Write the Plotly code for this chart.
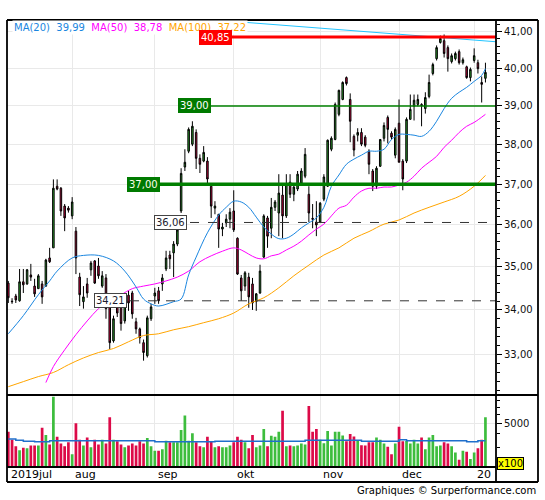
import numpy as np
import pandas as pd
import plotly.graph_objects as go

# ---------------- data ----------------
holidays = pd.to_datetime(["2019-12-25", "2019-12-26", "2020-01-01"])
dates = pd.bdate_range("2019-07-09", "2020-01-07")
dates = dates[~dates.isin(holidays)]

open_ = [34.62, 34.20, 34.32, 34.21, 34.65, 34.60, 34.81, 34.55, 34.49, 34.60,
         34.55, 35.21, 35.45, 36.95, 36.90, 36.46, 36.41, 36.22, 35.85, 34.76,
         34.19, 34.60, 34.93, 35.14, 35.02, 34.55, 34.74, 34.25, 33.30, 34.14,
         34.09, 33.75, 34.34, 34.39, 33.73, 33.57, 33.26, 32.97, 33.80, 34.32,
         34.44, 34.60, 34.95, 35.28, 35.33, 35.54, 36.34, 37.43, 37.83, 38.01,
         38.31, 37.65, 37.58, 37.58, 36.95, 36.41, 36.26, 35.90, 36.05, 36.14,
         36.34, 35.68, 34.74, 34.55, 34.76, 34.60, 34.19, 34.39, 35.23, 36.17,
         35.92, 36.43, 36.29, 36.73, 36.22, 37.05, 36.75, 36.88, 37.03, 37.20,
         36.75, 36.16, 36.07, 36.07, 36.63, 36.95, 37.88, 38.13, 38.78, 39.17,
         39.75, 39.17, 38.21, 38.24, 38.31, 38.19, 37.83, 37.33, 36.95, 37.45,
         38.16, 38.70, 38.29, 37.73, 38.55, 37.58, 37.58, 38.65, 38.99, 39.04,
         39.04, 38.93, 39.25, 39.86, 40.26, 40.70, 40.75, 40.56, 40.18, 40.26,
         40.45, 40.15, 40.04, 39.75, 40.21, 40.15, 39.62, 39.73]
high = [34.67, 34.27, 34.37, 34.95, 34.95, 34.95, 35.07, 34.72, 34.83, 34.67,
        35.19, 35.45, 37.12, 37.12, 36.93, 36.51, 36.46, 36.68, 35.95, 34.86,
        34.55, 34.74, 35.14, 35.16, 35.21, 34.90, 34.83, 34.37, 33.87, 34.19,
        34.16, 34.30, 34.44, 34.44, 33.82, 33.60, 33.33, 33.87, 34.14, 34.51,
        34.53, 34.83, 35.38, 35.38, 35.61, 36.14, 37.40, 37.88, 38.44, 38.60,
        38.39, 37.75, 37.96, 37.68, 37.00, 36.58, 36.26, 36.05, 36.26, 36.41,
        36.85, 35.70, 34.81, 34.90, 34.86, 34.74, 34.39, 35.05, 36.26, 36.22,
        36.66, 36.61, 37.25, 37.00, 37.25, 37.25, 37.00, 37.33, 37.40, 37.91,
        36.95, 36.51, 36.58, 36.56, 37.25, 38.13, 38.21, 39.09, 39.43, 39.65,
        39.78, 39.33, 38.26, 38.42, 38.42, 38.24, 37.88, 37.38, 37.45, 38.13,
        38.57, 38.75, 38.34, 38.44, 39.17, 37.63, 38.70, 39.30, 39.30, 39.30,
        39.07, 39.36, 39.83, 40.15, 40.62, 40.89, 40.92, 40.62, 40.40, 40.45,
        40.51, 40.29, 40.07, 40.02, 40.54, 40.23, 39.78, 40.15]
low = [34.16, 34.14, 34.16, 34.19, 34.39, 34.58, 34.67, 34.30, 34.49, 34.14,
       34.53, 35.09, 35.45, 36.85, 36.22, 35.85, 36.30, 36.14, 34.83, 34.09,
       34.03, 34.28, 34.79, 34.60, 34.72, 34.51, 33.80, 33.12, 33.26, 33.84,
       33.53, 33.69, 33.98, 33.80, 33.46, 33.24, 32.86, 32.93, 33.75, 34.14,
       34.14, 34.44, 34.90, 34.95, 34.76, 35.49, 36.29, 37.33, 37.78, 37.96,
       37.38, 37.28, 37.55, 37.03, 36.17, 36.26, 35.45, 35.73, 35.95, 35.92,
       35.83, 34.81, 34.21, 34.44, 34.05, 34.00, 33.98, 34.37, 35.21, 35.45,
       35.68, 36.34, 35.73, 35.68, 36.17, 36.66, 36.58, 36.83, 36.98, 37.15,
       36.07, 35.92, 35.73, 36.05, 36.58, 36.93, 37.83, 38.11, 38.73, 39.15,
       39.54, 38.06, 37.70, 38.08, 37.96, 37.93, 37.25, 36.83, 36.88, 37.43,
       38.08, 38.03, 38.13, 37.65, 37.55, 36.85, 37.53, 38.65, 38.62, 38.99,
       38.47, 38.80, 39.20, 39.81, 40.21, 40.67, 40.29, 39.91, 40.13, 40.21,
       40.10, 40.10, 39.72, 39.65, 40.15, 39.86, 39.09, 39.62]
close = [34.28, 34.19, 34.23, 34.65, 34.58, 34.93, 34.76, 34.37, 34.79, 34.30,
         35.16, 35.12, 36.90, 36.88, 36.34, 36.17, 36.36, 36.56, 35.21, 34.35,
         34.30, 34.39, 35.09, 34.62, 34.79, 34.79, 34.03, 33.26, 33.80, 33.93,
         33.69, 34.25, 34.16, 33.91, 33.57, 33.37, 33.04, 33.82, 34.07, 34.39,
         34.21, 34.74, 35.21, 35.19, 35.54, 35.88, 37.27, 37.55, 38.39, 38.47,
         37.65, 37.50, 37.80, 37.13, 36.46, 36.46, 35.90, 35.95, 36.14, 36.31,
         35.88, 34.83, 34.44, 34.86, 34.30, 34.16, 34.37, 34.90, 36.22, 35.73,
         36.43, 36.56, 36.78, 36.22, 37.00, 36.75, 36.93, 37.25, 37.33, 37.75,
         36.29, 36.14, 36.00, 36.53, 37.18, 38.11, 38.16, 39.04, 39.41, 39.62,
         39.59, 38.60, 37.86, 38.31, 38.01, 37.98, 37.50, 36.95, 37.40, 38.13,
         38.49, 38.39, 38.19, 38.39, 37.55, 37.13, 38.65, 38.91, 39.15, 39.17,
         39.01, 39.22, 39.62, 40.10, 40.56, 40.81, 40.40, 40.26, 40.34, 40.40,
         40.15, 40.23, 39.75, 39.97, 40.34, 39.99, 39.57, 39.89]
volume = [4195, 3546, 3098, 2840, 3000, 2960, 3140, 3140, 3140, 4548,
          3923, 3205, 8700, 3768, 3272, 3098, 3360, 2618, 5015, 3546,
          3140, 3716, 3035, 3546, 3205, 3546, 3272, 5680, 3546, 3428,
          3205, 3035, 3140, 3272, 3140, 3428, 3272, 3670, 3098, 2813,
          2813, 2900, 3474, 3360, 3360, 3360, 4342, 5876, 3474, 4059,
          3360, 3098, 3035, 3768, 3428, 3035, 3098, 3035, 3035, 3140,
          3360, 3768, 3546, 3360, 2960, 3923, 3035, 3140, 4429, 3098,
          3846, 3768, 4195, 6500, 3098, 3140, 3098, 3140, 3272, 3205,
          7190, 4195, 4429, 3546, 3300, 4250, 3140, 4195, 4195, 3880,
          3428, 4000, 3790, 3450, 3160, 3140, 3360, 3360, 3716, 3546,
          3272, 3060, 2618, 3272, 4640, 3428, 3450, 3272, 3546, 3272,
          3716, 2900, 3716, 3923, 3098, 3140, 3360, 3272, 3098, 2710,
          2335, 2813, 2760, 2370, 2710, 2960, 3546, 5680]

ma20_idx = [0, 4, 8, 11, 13, 17, 20, 24, 28, 31, 34, 36, 38, 40, 44, 46, 48, 50, 53, 56,
            58, 60, 62, 64, 66, 68, 70, 72, 74, 76, 78, 80, 82, 84, 86, 88, 90, 92, 94, 96,
            98, 100, 102, 104, 106, 108, 110, 112, 114, 116, 118, 120, 122, 124, 126, 127]
ma20_val = [33.46, 33.87, 34.35, 34.67, 34.90, 35.21, 35.27, 35.27, 35.14, 34.90, 34.53, 34.25,
            34.14, 34.09, 34.19, 34.25, 34.81, 35.23, 35.81, 36.24, 36.43, 36.58, 36.56, 36.43,
            36.19, 35.95, 35.78, 35.67, 35.68, 35.78, 35.93, 36.05, 36.17, 36.43, 36.95, 37.23,
            37.50, 37.63, 37.73, 37.83, 37.83, 37.88, 38.13, 38.26, 38.26, 38.24, 38.21, 38.34,
            38.60, 38.93, 39.20, 39.36, 39.49, 39.65, 39.81, 39.99]
ma50_idx = [10, 12, 15, 18, 21, 24, 27, 30, 33, 36, 39, 42, 45, 48, 51, 54, 57, 60, 62, 64,
            66, 68, 70, 72, 74, 76, 78, 80, 82, 84, 86, 88, 90, 92, 94, 96, 98, 100, 102, 104,
            106, 108, 110, 112, 114, 116, 118, 120, 122, 124, 127]
ma50_val = [32.38, 32.73, 33.10, 33.44, 33.75, 34.03, 34.23, 34.35, 34.49, 34.55, 34.60, 34.67,
            34.76, 34.90, 35.12, 35.26, 35.37, 35.45, 35.40, 35.30, 35.21, 35.19, 35.26, 35.30,
            35.40, 35.49, 35.61, 35.76, 35.90, 36.02, 36.22, 36.41, 36.48, 36.68, 36.83, 36.90,
            36.90, 36.93, 36.93, 36.98, 37.05, 37.20, 37.40, 37.55, 37.70, 37.93, 38.11, 38.31,
            38.47, 38.57, 38.78]
ma100_idx = [0, 4, 8, 12, 16, 20, 24, 28, 32, 36, 40, 44, 48, 52, 56, 60, 64, 68, 72, 76,
             80, 84, 88, 92, 96, 100, 104, 108, 112, 116, 120, 124, 127]
ma100_val = [32.29, 32.40, 32.51, 32.60, 32.77, 32.92, 33.04, 33.13, 33.28, 33.42, 33.46, 33.55,
             33.62, 33.71, 33.80, 33.93, 34.14, 34.28, 34.51, 34.79, 35.04, 35.28, 35.45, 35.68,
             35.84, 36.02, 36.12, 36.29, 36.43, 36.56, 36.70, 36.95, 37.22]
vol_ma_idx = [0, 2, 4, 7, 11, 39, 55, 79, 94, 104, 106, 122, 125, 127]
vol_ma_val = [3600, 3500, 3430, 3390, 3474, 3390, 3430, 3500, 3430, 3546, 3474, 3390, 3474, 3474]

trend_idx = [55, 129.8]
trend_val = [41.32, 40.72]

level_vals = [40.85, 39.00, 37.00, 36.06, 34.21]
level_text = ["40,85", "39,00", "37,00", "36,06", "34,21"]

ma_names = ["MA(20)", "MA(50)", "MA(100)"]
ma_last = ["39,99", "38,78", "37,22"]

price_ticks = [33, 34, 35, 36, 37, 38, 39, 40, 41]
price_tick_text = ["33,00", "34,00", "35,00", "36,00", "37,00", "38,00", "39,00", "40,00", "41,00"]
vol_ticks = [5000]
vol_tick_text = ["5000"]
vol_minor = [3000, 4000, 6000, 7000, 8000]
month_labels = ["2019jul", "aug", "sep", "okt", "nov", "dec", "20"]

# ---------------- styling / layout geometry ----------------
W, H = 545, 500
ML, MR, MT, MB = 7, 49, 20, 33
PW, PH = W - ML - MR, H - MT - MB
SPLIT = (467 - 395) / PH
X0_PX, STEP_PX = 8.3, 3.757
XL = (ML - X0_PX) / STEP_PX
XR = (W - MR - X0_PX) / STEP_PX


def px_x(px):
    return (px - ML) / PW


def px_y(py):
    return (H - MB - py) / PH


def idx_at(px):
    return (px - X0_PX) / STEP_PX


UP, DOWN = "#2ea32e", "#d0063f"
VUP, VDOWN = "#3dbd3d", "#dc0a48"
C20, C50, C100 = "#1a86e0", "#ff00ff", "#ffa500"
GRID = "#e9e9e9"
FONT = "DejaVu Sans"

idx = np.arange(len(close))
months = dates.to_period("M")
month_start = [0] + [i for i in range(1, len(dates)) if months[i] != months[i - 1]]

fig = go.Figure()

fig.add_trace(go.Candlestick(
    x=idx, open=open_, high=high, low=low, close=close,
    increasing=dict(line=dict(color="#000000", width=1), fillcolor=UP),
    decreasing=dict(line=dict(color="#000000", width=1), fillcolor=DOWN),
    whiskerwidth=0, hoverinfo="skip", showlegend=False, xaxis="x", yaxis="y"))

fig.add_trace(go.Scatter(x=ma100_idx, y=ma100_val, mode="lines", line=dict(color=C100, width=1, shape="spline"),
                         showlegend=False, hoverinfo="skip"))
fig.add_trace(go.Scatter(x=ma50_idx, y=ma50_val, mode="lines", line=dict(color=C50, width=1, shape="spline"),
                         showlegend=False, hoverinfo="skip"))
fig.add_trace(go.Scatter(x=ma20_idx, y=ma20_val, mode="lines", line=dict(color=C20, width=1, shape="spline"),
                         showlegend=False, hoverinfo="skip"))
fig.add_trace(go.Scatter(x=trend_idx, y=trend_val, mode="lines", line=dict(color="#22c4ff", width=1),
                         showlegend=False, hoverinfo="skip"))

# level lines
level_style = [dict(color="#ff0000", width=3), dict(color="#008000", width=1.5),
               dict(color="#008000", width=3.5), dict(color="#333333", width=1, dash="dash"),
               dict(color="#333333", width=1, dash="dash")]
level_label_px = [199, 178, 127, 154, 94]
for v, st, lp in zip(level_vals, level_style, level_label_px):
    fig.add_trace(go.Scatter(x=[idx_at(lp), XR], y=[v, v], mode="lines", line=st,
                             showlegend=False, hoverinfo="skip"))

# volume
vcol = [VUP if c >= o else VDOWN for o, c in zip(open_, close)]
fig.add_trace(go.Bar(x=idx, y=volume, marker=dict(color=vcol, line=dict(width=0)), width=0.72,
                     showlegend=False, hoverinfo="skip", xaxis="x2", yaxis="y2"))
fig.add_trace(go.Scatter(x=vol_ma_idx, y=vol_ma_val, mode="lines", line=dict(color="#1f6fcc", width=1.5, shape="hv"),
                         showlegend=False, hoverinfo="skip", xaxis="x2", yaxis="y2"))

axis_common = dict(range=[XL, XR], tickvals=month_start[1:], showticklabels=False, ticks="",
                   showgrid=True, gridcolor=GRID, gridwidth=1, zeroline=False, showline=False,
                   automargin=False, fixedrange=True)

fig.update_layout(
    width=W, height=H,
    margin=dict(l=ML, r=MR, t=MT, b=MB, pad=0, autoexpand=False),
    paper_bgcolor="white", plot_bgcolor="white",
    font=dict(family=FONT, size=10, color="#111111"),
    boxgap=0.42,
    xaxis=dict(domain=[0, 1], anchor="y", rangeslider=dict(visible=False), **axis_common),
    xaxis2=dict(domain=[0, 1], anchor="y2", matches="x", **axis_common),
    yaxis=dict(domain=[SPLIT, 1], type="log", range=[np.log10(32.11), np.log10(41.32)], side="right",
               anchor="x", tickvals=price_ticks, ticktext=price_tick_text, ticks="outside", ticklen=5,
               tickcolor="#000000", tickwidth=1, showgrid=True, gridcolor=GRID, zeroline=False,
               showline=False, automargin=False, fixedrange=True,
               tickfont=dict(family=FONT, size=10, color="#111111"),
               minor=dict(tickvals=[round(33 + 0.2 * k, 2) for k in range(-4, 42) if (k % 5) != 0],
                          ticks="outside", ticklen=3, tickcolor="#000000", showgrid=False)),
    yaxis2=dict(domain=[0, SPLIT], type="log", range=[np.log10(2003), np.log10(9040)], side="right",
                anchor="x2", tickvals=vol_ticks, ticktext=vol_tick_text, ticks="outside", ticklen=5,
                tickcolor="#000000", showgrid=True, gridcolor=GRID, zeroline=False, showline=False,
                automargin=False, fixedrange=True,
                tickfont=dict(family=FONT, size=10, color="#111111"),
                minor=dict(tickvals=vol_minor, ticks="outside", ticklen=3, tickcolor="#000000", showgrid=False)),
    showlegend=False,
)

# frame lines
LW = 1.8
frame = [((7, 20), (538, 20)), ((7, 482), (538, 482)), ((7, 20), (7, 482)), ((538, 20), (538, 482)),
         ((496, 20), (496, 482)), ((7, 395), (538, 395)), ((7, 467), (496, 467))]
for (a, b) in frame:
    fig.add_shape(type="line", xref="paper", yref="paper", x0=px_x(a[0]), y0=px_y(a[1]),
                  x1=px_x(b[0]), y1=px_y(b[1]), line=dict(color="#000000", width=LW), layer="above")

ann = []
# legend
leg_html = "&nbsp;&nbsp;".join(
    f'<span style="color:{c}">{n}&nbsp;&nbsp;{v}</span>' for n, v, c in zip(ma_names, ma_last, [C20, C50, C100]))
ann.append(dict(text=leg_html, xref="paper", yref="paper", x=px_x(12), y=px_y(27), xanchor="left",
                yanchor="middle", showarrow=False, bgcolor="white", borderpad=1,
                font=dict(family=FONT, size=10)))
# level labels
lab_style = [("#ff0000", "#ffffff", "#ff0000"), ("#007a00", "#ffffff", "#007a00"),
             ("#007a00", "#ffffe8", "#007a00"), ("#ffffff", "#1a1a2e", "#444444"),
             ("#ffffff", "#1a1a2e", "#444444")]
for v, t, lp, (bg, fc, bc) in zip(level_vals, level_text, level_label_px, lab_style):
    ann.append(dict(text=t, xref="x", yref="y", x=idx_at(lp), y=np.log10(v), xanchor="left",
                    yanchor="middle", showarrow=False, bgcolor=bg, bordercolor=bc, borderwidth=1,
                    borderpad=1, font=dict(family=FONT, size=10, color=fc)))
# month labels
for k, (ms, lab) in enumerate(zip(month_start, month_labels)):
    xpos = idx_at(9) if k == 0 else ms + 0.35
    ann.append(dict(text=lab, xref="x2", yref="paper", x=xpos, y=px_y(474), xanchor="left",
                    yanchor="middle", showarrow=False, font=dict(family=FONT, size=11, color="#000000")))
# x100 box
ann.append(dict(text="x100", xref="paper", yref="paper", x=px_x(497), y=px_y(463), xanchor="left",
                yanchor="middle", showarrow=False, bgcolor="#ffff00", bordercolor="#000000",
                borderwidth=1, borderpad=0, font=dict(family=FONT, size=10, color="#000000")))
# footer
ann.append(dict(text="Graphiques © Surperformance.com", xref="paper", yref="paper", x=px_x(538),
                y=px_y(491), xanchor="right", yanchor="middle", showarrow=False,
                font=dict(family=FONT, size=10, color="#000000")))
fig.update_layout(annotations=ann)

fig.write_html("out.html", config={"displayModeBar": False, "staticPlot": True},
               post_script="document.body.style.margin='0';document.body.style.overflow='hidden';")
